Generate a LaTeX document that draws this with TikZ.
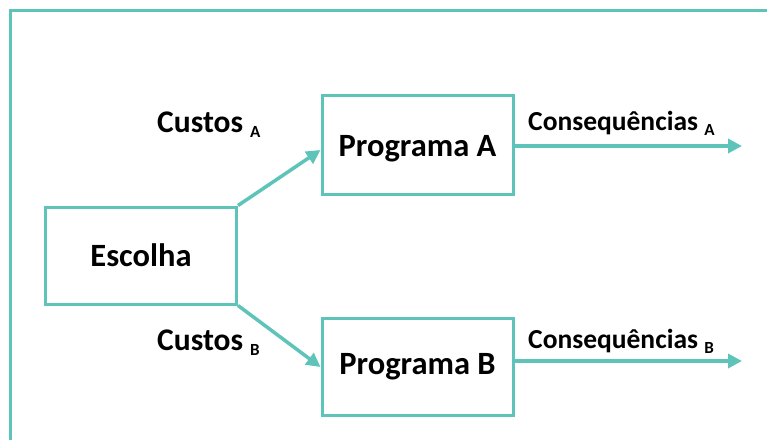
\documentclass[tikz,border=0pt]{standalone}
\usepackage{fontspec}
\setmainfont{Carlito}
\usetikzlibrary{arrows.meta}
\definecolor{teal1}{RGB}{94,196,186}
\tikzset{
  box/.style={draw=teal1, line width=3pt, minimum width=191pt, minimum height=97pt, inner sep=0pt, font=\fontsize{32.5}{32.5}\selectfont\bfseries},
  conn/.style={draw=teal1, line width=3.5pt, -{Triangle[length=14pt,width=14pt]}},
  lbl/.style={anchor=base west, inner sep=0pt, font=\bfseries},
}
\newcommand{\subA}[2]{\raisebox{-5pt}{\fontsize{#2}{#2}\selectfont #1}}
\begin{document}
\begin{tikzpicture}[x=1pt,y=-1pt]
\useasboundingbox (0,0) rectangle (767,439);
\draw[draw=teal1, line width=3pt] (770,10) -- (10,10) -- (10,442);
\node[box] (esc) at (141,255.5) {Escolha};
\node[box, minimum height=99pt] (pa) at (417.5,145) {\raisebox{-11pt}[0pt][0pt]{Programa A}};
\node[box] (pb) at (417.5,367) {Programa B};
\coordinate (ea) at (742,146);
\coordinate (eb) at (742,361);
\draw[conn] (esc.north east) -- ([yshift=-5pt]pa.west);
\draw[conn] (esc.south east) -- (pb.west);
\draw[conn] ([yshift=-1pt]pa.east) -- (ea);
\draw[conn] ([yshift=6pt]pb.east) -- (eb);
\node[lbl, font=\fontsize{31.5}{31.5}\selectfont\bfseries] (ca) at (157,132) {Custos \subA{A}{17}};
\node[lbl, font=\fontsize{31.5}{31.5}\selectfont\bfseries] (cb) at (157,350) {Custos \subA{B}{17}};
\node[lbl, font=\fontsize{27.5}{27.5}\selectfont\bfseries] (qa) at (528,130) {Consequências \subA{A}{17}};
\node[lbl, font=\fontsize{27.5}{27.5}\selectfont\bfseries] (qb) at (528,348) {Consequências \subA{B}{17}};
\end{tikzpicture}
\end{document}
